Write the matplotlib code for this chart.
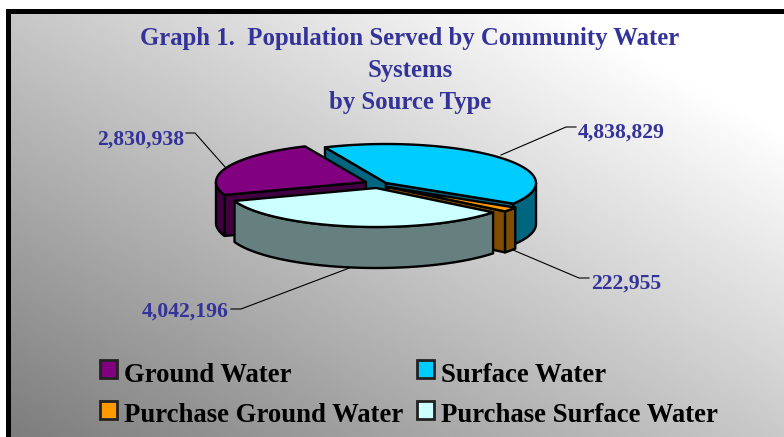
import numpy as np
import matplotlib
matplotlib.use('Agg')
import matplotlib.pyplot as plt
from matplotlib.colors import to_rgb

title_lines = ['Graph 1.  Population Served by Community Water', 'Systems', 'by Source Type']
names = ['Ground Water', 'Surface Water', 'Purchase Ground Water', 'Purchase Surface Water']
values = [2830938, 4838829, 222955, 4042196]
value_labels = ['2,830,938', '4,838,829', '222,955', '4,042,196']
colors = ['#800080', '#00CCFF', '#FF9900', '#CCFFFF']

# pie layout in pixels, slices go clockwise from the surface water edge
first_slice = 1
start_angle = 114
rx = 150
ry = 39
depth = 41
centers = [(366, 182), (386, 183), (388, 187), (376, 188)]
draw_order = [1, 0, 2, 3]
label_pos = [(97, 140), (578, 133), (591, 284), (142, 312)]
leaders = [[(186, 133), (195, 133), (226, 168)],
           [(576, 127), (566, 127), (501, 155)],
           [(589, 278), (579, 278), (513, 250)],
           [(231, 309), (241, 309), (352, 267)]]

# legend layout in pixels: marker left, marker top, text left, text centre
legend_pos = [(100, 360, 124, 376), (417, 360, 441, 376),
              (100, 401, 124, 416), (417, 401, 441, 416)]

title_color = '#333399'
serif = 'Liberation Serif'

fig = plt.figure(figsize=(7.84, 4.37), dpi=100)
ax = fig.add_axes([0, 0, 1, 1])

# frame and background gradient
ax.fill([6, 784, 784, 6], [9, 9, 437, 437], color='black', lw=0, zorder=0)
xx, yy = np.meshgrid(np.linspace(0, 1, 200), np.linspace(0, 1, 200))
grad = np.clip(0.78 + 0.30 * xx - 0.29 * yy, 0, 1)
ax.imshow(grad, extent=(11, 784, 437, 14), cmap='gray', vmin=0, vmax=1,
          aspect='auto', zorder=1, interpolation='bilinear')
ax.set_xlim(0, 784)
ax.set_ylim(437, 0)
ax.axis('off')


def rim(cx, cy, a1, a2, dy=0):
    t = np.deg2rad(np.linspace(a1, a2, 80))
    return cx + rx * np.cos(t), cy - ry * np.sin(t) + dy


def face(xs, ys, col, z):
    ax.fill(xs, ys, facecolor=col, edgecolor='black', lw=1.7, joinstyle='round', zorder=z)


# angles, walking round from the first slice
total = sum(values)
order = [(first_slice + k) % len(values) for k in range(len(values))]
a = start_angle
starts, ends = {}, {}
for i in order:
    starts[i] = a
    a = a - values[i] / total * 360
    ends[i] = a

for z, i in enumerate(draw_order):
    cx, cy = centers[i]
    a1, a2 = starts[i], ends[i]
    top = np.array(to_rgb(colors[i]))
    dark = top * 0.5
    # cut sides that face the viewer
    for a, n in ((a1, a1 + 90), (a2, a2 - 90)):
        if np.sin(np.deg2rad(n)) < 0:
            ex = cx + rx * np.cos(np.deg2rad(a))
            ey = cy - ry * np.sin(np.deg2rad(a))
            face([cx, ex, ex, cx], [cy, ey, ey + depth, cy + depth], dark, 3 + z)
    # outer wall, front half only
    hi = min(a1, 0)
    lo = max(a2, -180)
    if hi > lo:
        x1, y1 = rim(cx, cy, hi, lo)
        x2, y2 = rim(cx, cy, lo, hi, depth)
        face(np.r_[x1, x2], np.r_[y1, y2], dark, 3 + z)
    # top
    x1, y1 = rim(cx, cy, a1, a2)
    face(np.r_[cx, x1], np.r_[cy, y1], top, 3 + z)

# value labels with leader lines
for pos, lab, line in zip(label_pos, value_labels, leaders):
    ax.text(pos[0], pos[1], lab, family=serif, weight='bold', fontsize=15.7,
            color=title_color, va='center', ha='left', zorder=10)
    ax.plot([p[0] for p in line], [p[1] for p in line], color='black', lw=0.8, zorder=2)

for y, line in zip([39, 71, 103], title_lines):
    ax.text(410, y, line, family=serif, weight='bold', fontsize=17.8,
            color=title_color, ha='center', va='center', zorder=10)

# legend
for k, (mx, my, tx, ty) in enumerate(legend_pos):
    ax.fill([mx, mx + 17, mx + 17, mx], [my, my, my + 18, my + 18], facecolor=colors[k],
            edgecolor='#222222', lw=2, zorder=10)
    ax.text(tx, ty, names[k], family=serif, weight='bold', fontsize=19.3,
            color='black', ha='left', va='center', zorder=10)

fig.savefig('out.png', dpi=100)
